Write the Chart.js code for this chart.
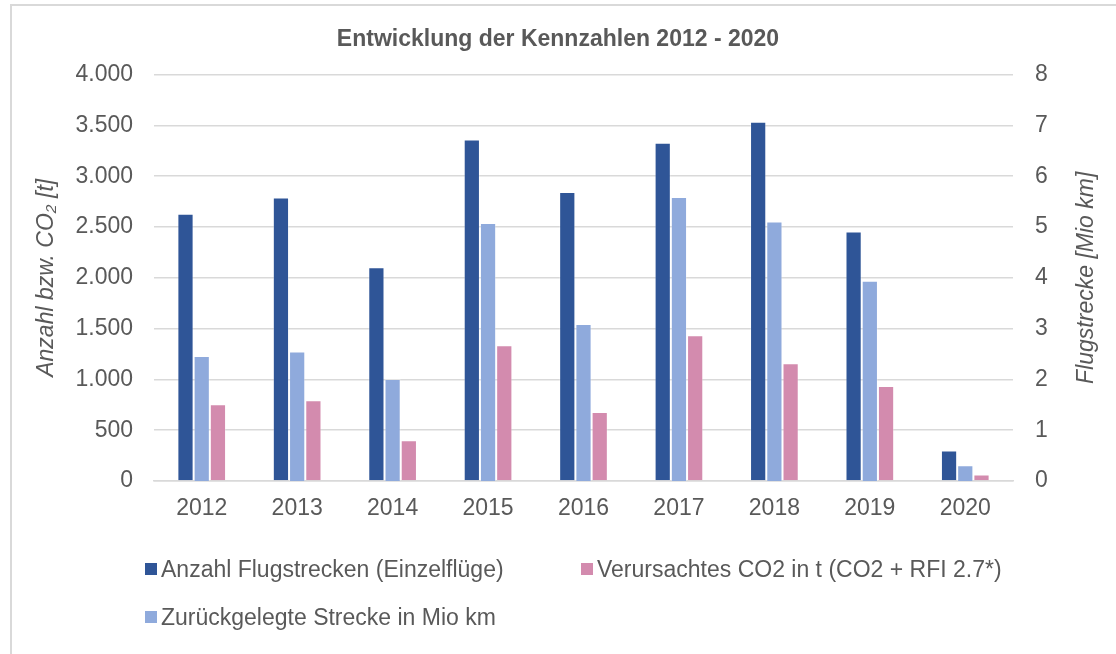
<!DOCTYPE html>
<html>
<head>
<meta charset="utf-8">
<script src="https://cdn.jsdelivr.net/npm/chart.js@4"></script>
<style>
    body { margin: 0; background: #fff; font-family: "Liberation Sans", Arial, sans-serif; }
    #wrap { position: relative; width: 1116px; height: 654px; overflow: hidden; }
    #frame { position: absolute; left: 10px; top: 4px; width: 1200px; height: 700px; border: 2px solid #d9d9d9; box-sizing: border-box; }
    #chart-box { position: absolute; left: 0; top: 0; width: 1116px; height: 654px; }
    #legend { position: absolute; left: 145px; top: 545px; display: grid; grid-template-columns: 436px auto; grid-template-rows: 48px 48px; grid-auto-flow: column; }
    .item { display: flex; align-items: center; height: 48px; font-size: 23px; color: #595959; white-space: nowrap; }
    .swatch { width: 12px; height: 12px; margin-right: 4px; }
</style>
</head>
<body>
<div id="wrap">
    <div id="frame"></div>
    <div id="chart-box"><canvas id="chart"></canvas></div>
    <div id="legend"></div>
</div>
<script>
const years = ["2012", "2013", "2014", "2015", "2016", "2017", "2018", "2019", "2020"];
const anzahlFlugstrecken = [2630, 2790, 2105, 3360, 2845, 3330, 3535, 2455, 300];
const streckeMioKm = [2.46, 2.55, 2.01, 5.08, 3.09, 5.59, 5.11, 3.94, 0.31];
const co2Tonnen = [755, 795, 400, 1335, 680, 1435, 1160, 935, 65];

const textColor = "#595959";
const fontFamily = "'Liberation Sans', Arial, sans-serif";
const fontSize = 23;

const withDots = (v) => String(v).replace(/\B(?=(\d{3})+(?!\d))/g, ".");

// right axis title reads bottom-to-top like the left one, so draw it here
const rightTitle = {
    id: "rightTitle",
    afterDraw(chart) {
        const {ctx, chartArea, scales} = chart;
        ctx.save();
        ctx.translate(scales.y1.right - 29, (chartArea.top + chartArea.bottom) / 2);
        ctx.rotate(-Math.PI / 2);
        ctx.font = `italic ${fontSize}px ${fontFamily}`;
        ctx.fillStyle = textColor;
        ctx.textAlign = "center";
        ctx.textBaseline = "middle";
        ctx.fillText("Flugstrecke [Mio km]", 0, 0);
        ctx.restore();
    }
};

const ctx = document.getElementById("chart").getContext("2d");
const chart = new Chart(ctx, {
    type: "bar",
    data: {
        labels: years,
        datasets: [
            {
                label: "Anzahl Flugstrecken (Einzelflüge)",
                data: anzahlFlugstrecken,
                backgroundColor: "#2f5597",
                borderColor: "rgba(255,255,255,0.3)",
                borderWidth: 1,
                yAxisID: "y"
            },
            {
                label: "Zurückgelegte Strecke in Mio km",
                data: streckeMioKm,
                backgroundColor: "#8faadc",
                borderColor: "rgba(255,255,255,0.3)",
                borderWidth: 1,
                yAxisID: "y1"
            },
            {
                label: "Verursachtes CO2 in t (CO2 + RFI 2.7*)",
                data: co2Tonnen,
                backgroundColor: "#d38bae",
                borderColor: "rgba(255,255,255,0.3)",
                borderWidth: 1,
                yAxisID: "y"
            }
        ]
    },
    options: {
        responsive: true,
        maintainAspectRatio: false,
        animation: false,
        layout: { padding: 0 },
        datasets: {
            bar: { categoryPercentage: 0.51, barPercentage: 1 }
        },
        plugins: {
            legend: { display: false },
            tooltip: { enabled: false },
            title: {
                display: true,
                text: "Entwicklung der Kennzahlen 2012 - 2020",
                color: textColor,
                font: { family: fontFamily, size: fontSize, weight: "bold" },
                padding: { top: 26, bottom: 21 }
            }
        },
        scales: {
            x: {
                grid: { display: false, drawTicks: false },
                border: { display: true, color: "#d9d9d9", width: 1.5 },
                ticks: {
                    color: textColor,
                    font: { family: fontFamily, size: fontSize },
                    padding: 14
                },
                afterFit: (scale) => { scale.height = 173; }
            },
            y: {
                position: "left",
                min: 0,
                max: 4000,
                ticks: {
                    stepSize: 500,
                    color: textColor,
                    font: { family: fontFamily, size: fontSize },
                    padding: 21,
                    callback: (v) => withDots(v)
                },
                grid: { color: "#d9d9d9", lineWidth: 1.5, drawTicks: false },
                border: { display: false },
                title: {
                    display: true,
                    text: "Anzahl bzw. CO₂ [t]",
                    color: textColor,
                    font: { family: fontFamily, size: fontSize, style: "italic" },
                    padding: { top: 33 }
                },
                afterFit: (scale) => { scale.width = 154; }
            },
            y1: {
                position: "right",
                min: 0,
                max: 8,
                ticks: {
                    stepSize: 1,
                    color: textColor,
                    font: { family: fontFamily, size: fontSize },
                    padding: 22
                },
                grid: { display: false, drawTicks: false },
                border: { display: false },
                afterFit: (scale) => { scale.width = 103; }
            }
        }
    },
    plugins: [rightTitle]
});

// legend built from the datasets: column-first, so Anzahl + Strecke left, CO2 right
const legendEl = document.getElementById("legend");
chart.data.datasets.forEach(ds => {
    const item = document.createElement("div");
    item.className = "item";
    item.innerHTML = `<span class="swatch" style="background:${ds.backgroundColor}"></span><span>${ds.label}</span>`;
    legendEl.appendChild(item);
});
</script>
</body>
</html>
